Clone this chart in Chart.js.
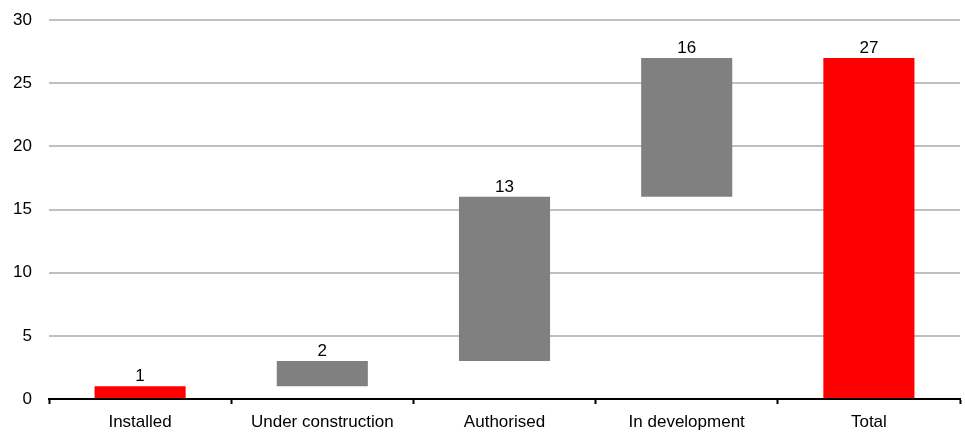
<!DOCTYPE html>
<html>
<head>
<meta charset="utf-8">
<script src="https://cdn.jsdelivr.net/npm/chart.js@4/dist/chart.umd.min.js"></script>
<style>
  html, body { margin: 0; padding: 0; background: #fff; }
  #wrap { width: 965px; height: 433px; position: relative; }
</style>
</head>
<body>
<div id="wrap"><canvas id="c"></canvas></div>
<script>
// Waterfall: each stage floats from its base to its top
const categories = ['Installed', 'Under construction', 'Authorised', 'In development', 'Total'];
const barBase = [0, 1, 3, 16, 0];
const barTop = [1, 3, 16, 27, 27];
const valueLabels = ['1', '2', '13', '16', '27'];
const barColors = ['#ff0000', '#808080', '#808080', '#808080', '#ff0000'];
const yTicks = [0, 5, 10, 15, 20, 25, 30];

const FONT = '"Liberation Sans", Arial, sans-serif';

const floating = categories.map((_, i) => [barBase[i], barTop[i]]);

// Value text above each bar
const valueLabelPlugin = {
  id: 'valueLabels',
  afterDatasetsDraw(chart) {
    const ctx = chart.ctx;
    const meta = chart.getDatasetMeta(0);
    ctx.save();
    ctx.font = '17px ' + FONT;
    ctx.fillStyle = '#000';
    ctx.textAlign = 'center';
    ctx.textBaseline = 'alphabetic';
    meta.data.forEach((bar, i) => {
      const topY = chart.scales.y.getPixelForValue(barTop[i]);
      ctx.fillText(valueLabels[i], bar.x, topY - 5);
    });
    ctx.restore();
  }
};

new Chart(document.getElementById('c'), {
  type: 'bar',
  data: {
    labels: categories,
    datasets: [{
      data: floating,
      backgroundColor: barColors,
      borderWidth: 0,
      barPercentage: 0.5,
      categoryPercentage: 1.0
    }]
  },
  options: {
    responsive: true,
    maintainAspectRatio: false,
    animation: false,
    layout: { autoPadding: false, padding: { top: 20, right: 5, left: 0, bottom: 0 } },
    plugins: {
      legend: { display: false },
      tooltip: { enabled: false }
    },
    scales: {
      x: {
        offset: true,
        grid: {
          offset: true,
          drawOnChartArea: false,
          drawTicks: true,
          tickLength: 5,
          tickWidth: 2,
          tickColor: '#000'
        },
        border: { display: true, color: '#000', width: 2 },
        ticks: {
          color: '#000',
          font: { family: FONT, size: 17 },
          padding: 8,
          maxRotation: 0,
          autoSkip: false
        },
        afterFit(scale) { scale.height = 34; }
      },
      y: {
        min: 0,
        max: 30,
        afterBuildTicks(scale) { scale.ticks = yTicks.map(v => ({ value: v })); },
        grid: {
          color: '#c0c0c0',
          lineWidth: 2,
          drawTicks: false
        },
        border: { display: false },
        ticks: {
          color: '#000',
          font: { family: FONT, size: 17 },
          padding: 17
        },
        afterFit(scale) {
          scale.width = 49;
          // the label gap should not push the plot area down
          scale.paddingTop = 0;
          scale.paddingBottom = 0;
        }
      }
    }
  },
  plugins: [valueLabelPlugin]
});
</script>
</body>
</html>
